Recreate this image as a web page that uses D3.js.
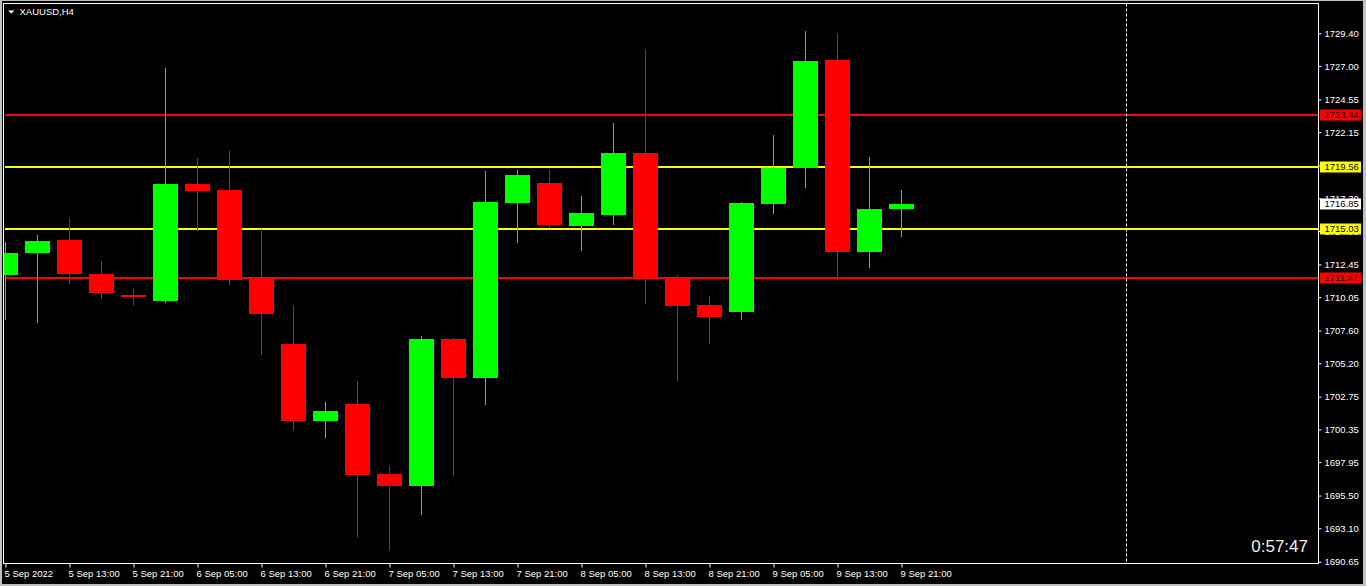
<!DOCTYPE html>
<html><head><meta charset="utf-8">
<script src="https://cdn.jsdelivr.net/npm/d3@7"></script>
<style>
html,body{margin:0;padding:0;background:#c0c0c0;overflow:hidden;}
svg{display:block;}
text{font-family:"Liberation Sans",Arial,sans-serif;}
</style></head>
<body>
<svg id="c" width="1366" height="586"></svg>
<script>
// ---- data ----
const symbolTitle = "XAUUSD,H4";
const candleTimes = ["5 Sep 05:00","5 Sep 09:00","5 Sep 13:00","5 Sep 17:00","5 Sep 21:00","6 Sep 01:00","6 Sep 05:00","6 Sep 09:00","6 Sep 13:00","6 Sep 17:00","6 Sep 21:00","7 Sep 01:00","7 Sep 05:00","7 Sep 09:00","7 Sep 13:00","7 Sep 17:00","7 Sep 21:00","8 Sep 01:00","8 Sep 05:00","8 Sep 09:00","8 Sep 13:00","8 Sep 17:00","8 Sep 21:00","9 Sep 01:00","9 Sep 05:00","9 Sep 09:00","9 Sep 13:00","9 Sep 17:00","9 Sep 21:00"];
const opens  = [1711.67,1713.29,1714.24,1711.75,1710.21,1709.79,1718.35,1717.91,1711.48,1706.61,1700.97,1702.21,1697.08,1696.20,1706.98,1704.14,1716.95,1718.42,1715.27,1716.07,1720.62,1711.48,1709.47,1708.98,1716.90,1719.54,1727.44,1713.38,1716.54];
const highs  = [1714.09,1714.61,1715.85,1712.70,1710.72,1726.86,1720.26,1720.77,1715.05,1709.47,1702.36,1703.90,1697.67,1707.20,1707.05,1719.30,1719.38,1719.38,1717.47,1722.82,1728.25,1711.68,1710.13,1717.03,1721.94,1729.57,1729.42,1720.33,1717.91];
const lows   = [1708.45,1708.23,1711.11,1710.01,1709.57,1709.72,1714.97,1711.04,1705.90,1700.33,1699.82,1692.53,1691.51,1694.15,1697.01,1702.21,1714.12,1715.20,1713.51,1715.42,1709.62,1703.98,1706.71,1708.47,1716.24,1718.15,1711.36,1712.28,1714.56];
const closes = [1713.29,1714.17,1711.77,1710.38,1710.08,1718.35,1717.86,1711.33,1708.84,1700.97,1701.70,1697.01,1696.20,1706.98,1704.12,1717.03,1719.01,1715.34,1716.22,1720.62,1711.48,1709.42,1708.62,1716.95,1719.54,1727.37,1713.38,1716.52,1716.85];
const timeTickIndex  = [0,2,4,6,8,10,12,14,16,18,20,22,24,26,28];
const timeTickLabels = ["5 Sep 2022","5 Sep 13:00","5 Sep 21:00","6 Sep 05:00","6 Sep 13:00","6 Sep 21:00","7 Sep 05:00","7 Sep 13:00","7 Sep 21:00","8 Sep 05:00","8 Sep 13:00","8 Sep 21:00","9 Sep 05:00","9 Sep 13:00","9 Sep 21:00"];
const priceTicks = [1729.40,1727.00,1724.55,1722.15,1719.70,1717.30,1714.90,1712.45,1710.05,1707.60,1705.20,1702.75,1700.35,1697.95,1695.50,1693.10,1690.65];
const levelPrices = [1723.44,1719.56,1715.03,1711.47];
const levelColors = ["#ff0000","#ffff00","#ffff00","#ff0000"];
const currentPrice = 1716.85;
const vlineIndex = 35;
const timerText = "0:57:47";

// ---- layout ----
const svg = d3.select("#c");
const L = 3.5, T = 3.5, R = 1318.5, B = 563.5;
svg.append("rect").attr("x",2).attr("y",1).attr("width",1361).attr("height",583).attr("fill","#000");

const x = d3.scaleLinear().domain([0,41]).range([5.5,1317.5]);
const y = d3.scaleLinear().domain([1690.65,1729.40]).range([561.7,33.3]);

svg.append("defs").append("clipPath").attr("id","clip")
  .append("rect").attr("x",L+0.5).attr("y",T+0.5).attr("width",R-L-1).attr("height",B-T-1);

const plot = svg.append("g").attr("clip-path","url(#clip)");

// level lines
plot.selectAll("line.level").data(levelPrices).enter().append("line")
  .attr("x1",5).attr("x2",R).attr("y1",d=>Math.round(y(d))).attr("y2",d=>Math.round(y(d)))
  .attr("stroke",(d,i)=>levelColors[i]).attr("stroke-width",2);

// dashed vertical line
plot.append("line").attr("x1",Math.round(x(vlineIndex))+0.5).attr("x2",Math.round(x(vlineIndex))+0.5)
  .attr("y1",T).attr("y2",B).attr("stroke","#fff").attr("stroke-dasharray","3,2");

// candles
const idx = d3.range(opens.length);
const bw = 25;
const col = i => closes[i] >= opens[i] ? "#00ff00" : "#ff0000";
plot.selectAll("line.wick").data(idx).enter().append("line")
  .attr("x1",i=>x(i)).attr("x2",i=>x(i))
  .attr("y1",i=>Math.round(y(highs[i]))).attr("y2",i=>Math.round(y(lows[i]))+1)
  .attr("stroke",col).attr("stroke-width",1);
plot.selectAll("rect.body").data(idx).enter().append("rect")
  .attr("x",i=>x(i)-bw/2).attr("width",bw)
  .attr("y",i=>Math.round(y(Math.max(opens[i],closes[i]))))
  .attr("height",i=>Math.max(2,Math.round(y(Math.min(opens[i],closes[i])))-Math.round(y(Math.max(opens[i],closes[i])))))
  .attr("fill",col);

// frame
svg.append("rect").attr("x",L).attr("y",T).attr("width",R-L).attr("height",B-T)
  .attr("fill","none").attr("stroke","#fff").attr("stroke-width",1);

// right axis
const yAxis = d3.axisRight(y).tickValues(priceTicks).tickFormat(d3.format(".2f")).tickSize(3).tickPadding(3);
const ya = svg.append("g").attr("transform",`translate(${R},0)`).call(yAxis);
ya.select(".domain").remove();
ya.selectAll("line").attr("stroke","#fff");
ya.selectAll("text").attr("fill","#fff").style("font-size","9.5px").style("font-family","Liberation Sans, Arial, sans-serif");

// bottom axis
const xAxis = d3.axisBottom(x).tickValues(timeTickIndex).tickFormat((d,i)=>timeTickLabels[i]).tickSize(4).tickPadding(3);
const xa = svg.append("g").attr("transform",`translate(0,${B})`).call(xAxis);
xa.select(".domain").remove();
xa.selectAll("line").attr("stroke","#fff");
xa.selectAll("text").attr("fill","#fff").attr("text-anchor","start").attr("dx",-1.5)
  .style("font-size","9.5px").style("font-family","Liberation Sans, Arial, sans-serif");

// price boxes
const boxes = levelPrices.map((p,i)=>({p, bg:levelColors[i]})).concat([{p:currentPrice,bg:"#ffffff"}]);
const bg = svg.append("g");
bg.selectAll("rect").data(boxes).enter().append("rect")
  .attr("x",1320).attr("width",41).attr("y",d=>Math.round(y(d.p))-5.5).attr("height",11).attr("fill",d=>d.bg);
bg.selectAll("text").data(boxes).enter().append("text")
  .attr("x",1324.5).attr("y",d=>Math.round(y(d.p))).attr("dy","0.34em")
  .attr("fill","#000").style("font-size","9.5px").text(d=>d.p.toFixed(2));

// title
svg.append("path").attr("d","M8,10.5 L14.5,10.5 L11.25,13.5 Z").attr("fill","#fff");
svg.append("text").attr("x",19.5).attr("y",15).attr("fill","#fff").style("font-size","9.5px").text(symbolTitle);

// timer
svg.append("text").attr("x",1308).attr("y",551.5).attr("text-anchor","end").attr("fill","#f0f0f0")
  .style("font-size","17px").text(timerText);
</script>
</body></html>
